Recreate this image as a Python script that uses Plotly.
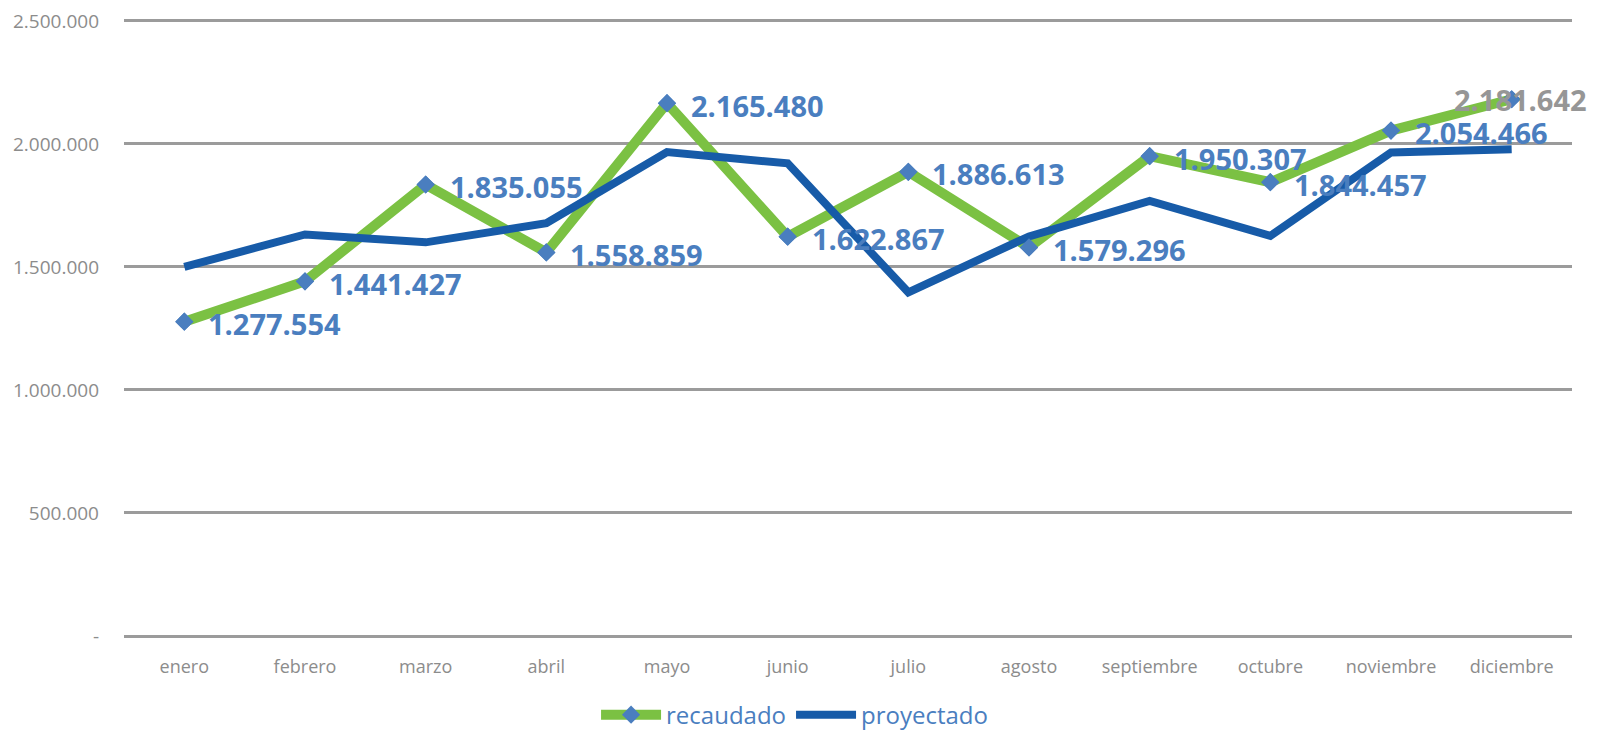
import plotly.graph_objects as go

meses = ["enero", "febrero", "marzo", "abril", "mayo", "junio", "julio",
         "agosto", "septiembre", "octubre", "noviembre", "diciembre"]
recaudado = [1277554, 1441427, 1835055, 1558859, 2165480, 1622867, 1886613,
             1579296, 1950307, 1844457, 2054466, 2181642]
proyectado = [1500000, 1632000, 1600000, 1678000, 1967000, 1921000, 1397000,
              1624000, 1768000, 1626000, 1965000, 1978000]
y_ticks = [0, 500000, 1000000, 1500000, 2000000, 2500000]
y_tick_text = ["-", "500.000", "1.000.000", "1.500.000", "2.000.000", "2.500.000"]

GREEN = '#7BC143'
BLUE = '#175BA8'
LABEL_BLUE = '#4A7EBF'
GREY = '#8C8C8C'
FONT = 'Open Sans'


def fmt(v):
    return f"{v:,}".replace(",", ".")


fig = go.Figure()

# recaudado line (legend entry carries the diamond)
fig.add_trace(go.Scatter(
    x=meses, y=recaudado,
    mode='lines+markers',
    name='recaudado',
    line=dict(color=GREEN, width=10),
    marker=dict(symbol='diamond', size=14, color=LABEL_BLUE),
    cliponaxis=False
))

# proyectado line drawn over the green one
fig.add_trace(go.Scatter(
    x=meses, y=proyectado,
    mode='lines',
    name='proyectado',
    line=dict(color=BLUE, width=8),
    cliponaxis=False
))

# diamonds of recaudado on top of everything
fig.add_trace(go.Scatter(
    x=meses, y=recaudado,
    mode='markers',
    showlegend=False,
    hoverinfo='skip',
    marker=dict(symbol='diamond', size=14, color=LABEL_BLUE),
    cliponaxis=False
))

annotations = []
for i, (m, v) in enumerate(zip(meses, recaudado)):
    last = i == len(meses) - 1
    annotations.append(dict(
        x=m, y=v, xref='x', yref='y',
        text=fmt(v),
        showarrow=False,
        xanchor='center' if last else 'left',
        yanchor='middle',
        xshift=9 if last else 22,
        yshift=0 if last else -2,
        font=dict(family=FONT, size=29, color='#969696' if last else LABEL_BLUE, weight='bold')
    ))

# the page body has an 8px margin, so the figure is sized to end at the window edge
fig.update_layout(
    width=1589, height=723,
    margin=dict(l=116, r=25, t=8, b=95, autoexpand=False),
    plot_bgcolor='white',
    paper_bgcolor='white',
    showlegend=True,
    legend=dict(
        orientation='h',
        xref='container', x=0.495, xanchor='center',
        yref='container', y=0.022, yanchor='middle',
        font=dict(family=FONT, size=24, color=LABEL_BLUE),
        itemwidth=60
    ),
    annotations=annotations,
    xaxis=dict(
        automargin=False,
        range=[-0.5, 11.5],
        showgrid=False,
        showline=False,
        zeroline=False,
        ticks='',
        tickfont=dict(family=FONT, size=18, color=GREY),
        ticklabelstandoff=18
    ),
    yaxis=dict(
        automargin=False,
        range=[0, 2520000],
        tickvals=y_ticks,
        ticktext=y_tick_text,
        showgrid=True,
        gridcolor='#9B9B9B',
        gridwidth=2.5,
        zeroline=True,
        zerolinecolor='#9B9B9B',
        zerolinewidth=2.5,
        showline=False,
        ticks='',
        ticklabeloverflow='allow',
        tickfont=dict(family=FONT, size=19, color=GREY),
        ticklabelstandoff=24
    )
)

fig.write_html("out.html")
